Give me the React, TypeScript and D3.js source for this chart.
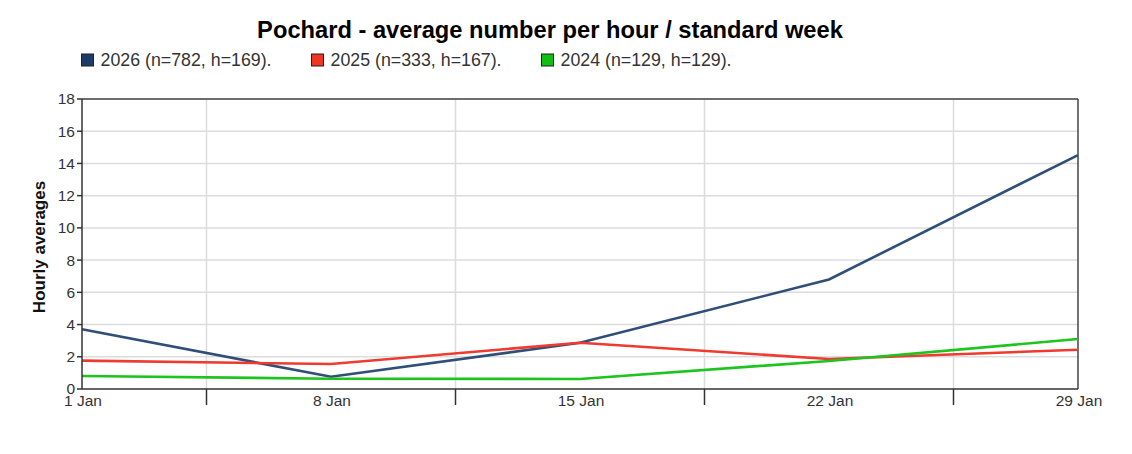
import React from "react";
import * as d3 from "d3";

const categories = ["1 Jan", "8 Jan", "15 Jan", "22 Jan", "29 Jan"];
const values2026 = [3.71, 0.76, 2.87, 6.8, 14.52];
const values2025 = [1.76, 1.55, 2.87, 1.86, 2.44];
const values2024 = [0.81, 0.64, 0.62, 1.74, 3.1];
const yTicks = [0, 2, 4, 6, 8, 10, 12, 14, 16, 18];
const seriesNames = ["2026 (n=782, h=169).", "2025 (n=333, h=167).", "2024 (n=129, h=129)."];
const title = "Pochard - average number per hour / standard week";
const yLabel = "Hourly averages";

const W = 1132;
const H = 454;
const FONT = "'Liberation Sans', Arial, sans-serif";

export default function App() {
  const x = d3.scalePoint<string>().domain(categories).range([82, 1078]);
  const y = d3.scaleLinear().domain([0, 18]).range([389, 99]);
  const line = d3
    .line<number>()
    .x((_, i) => x(categories[i]) as number)
    .y((d) => y(d));

  const series = [
    { name: seriesNames[0], values: values2026, color: "#2f4e78", fill: "#1d3d68" },
    { name: seriesNames[1], values: values2025, color: "#ee3b30", fill: "#f03526" },
    { name: seriesNames[2], values: values2024, color: "#1ec41e", fill: "#10c010" },
  ];

  const xs = categories.map((c) => x(c) as number);
  const mids = xs.slice(0, -1).map((v, i) => (v + xs[i + 1]) / 2);
  const [x0, x1] = x.range();
  const [yb, yt] = y.range();

  return (
    <svg
      width={W}
      height={H}
      style={{ position: "absolute", left: 0, top: 0, background: "#fff" }}
      fontFamily={FONT}
    >
      <text x={550} y={38} textAnchor="middle" fontSize={23.7} fontWeight="bold" fill="#000">
        {title}
      </text>

      {series.map((s, i) => (
        <g key={s.name} transform={`translate(${81 + i * 230},53.5)`}>
          <rect x={0.5} y={0.5} width={12} height={12} fill={s.fill} stroke="#222" strokeWidth={1} />
          <text x={19.5} y={12.5} fontSize={17.8} fill="#333">
            {s.name}
          </text>
        </g>
      ))}

      {/* gridlines */}
      {yTicks.slice(1).map((t) => (
        <line key={"hy" + t} x1={x0} x2={x1} y1={y(t)} y2={y(t)} stroke="#dcdcdc" strokeWidth={1.5} />
      ))}
      {mids.map((m, i) => (
        <line key={"vx" + i} x1={m} x2={m} y1={yt} y2={yb} stroke="#dcdcdc" strokeWidth={1.5} />
      ))}

      {/* frame */}
      <line x1={x0} x2={x1} y1={yt} y2={yt} stroke="#444" strokeWidth={1.5} />
      <line x1={x1} x2={x1} y1={yt} y2={yb} stroke="#444" strokeWidth={1.5} />

      {/* series */}
      {series.map((s) => (
        <path key={"l" + s.name} d={line(s.values) || ""} fill="none" stroke={s.color} strokeWidth={2.6} />
      ))}

      {/* y axis */}
      <line x1={x0} x2={x0} y1={yt} y2={yb} stroke="#333" strokeWidth={1.5} />
      {yTicks.map((t) => (
        <g key={"yt" + t}>
          <line x1={x0 - 5} x2={x0} y1={y(t)} y2={y(t)} stroke="#333" strokeWidth={1.5} />
          <text x={x0 - 7} y={y(t)} dy="0.35em" textAnchor="end" fontSize={15.5} fill="#333">
            {t}
          </text>
        </g>
      ))}
      <text
        transform={`translate(45,${(yt + yb) / 2 + 3}) rotate(-90)`}
        textAnchor="middle"
        fontSize={17}
        fontWeight="bold"
        fill="#111"
      >
        {yLabel}
      </text>

      {/* x axis */}
      <line x1={x0} x2={x1} y1={yb} y2={yb} stroke="#333" strokeWidth={1.5} />
      {mids.map((m, i) => (
        <line key={"xt" + i} x1={m} x2={m} y1={yb} y2={yb + 16} stroke="#333" strokeWidth={1.5} />
      ))}
      {categories.map((c) => (
        <text key={"xl" + c} x={(x(c) as number) + 1} y={406} textAnchor="middle" fontSize={15.5} fill="#333">
          {c}
        </text>
      ))}
    </svg>
  );
}
